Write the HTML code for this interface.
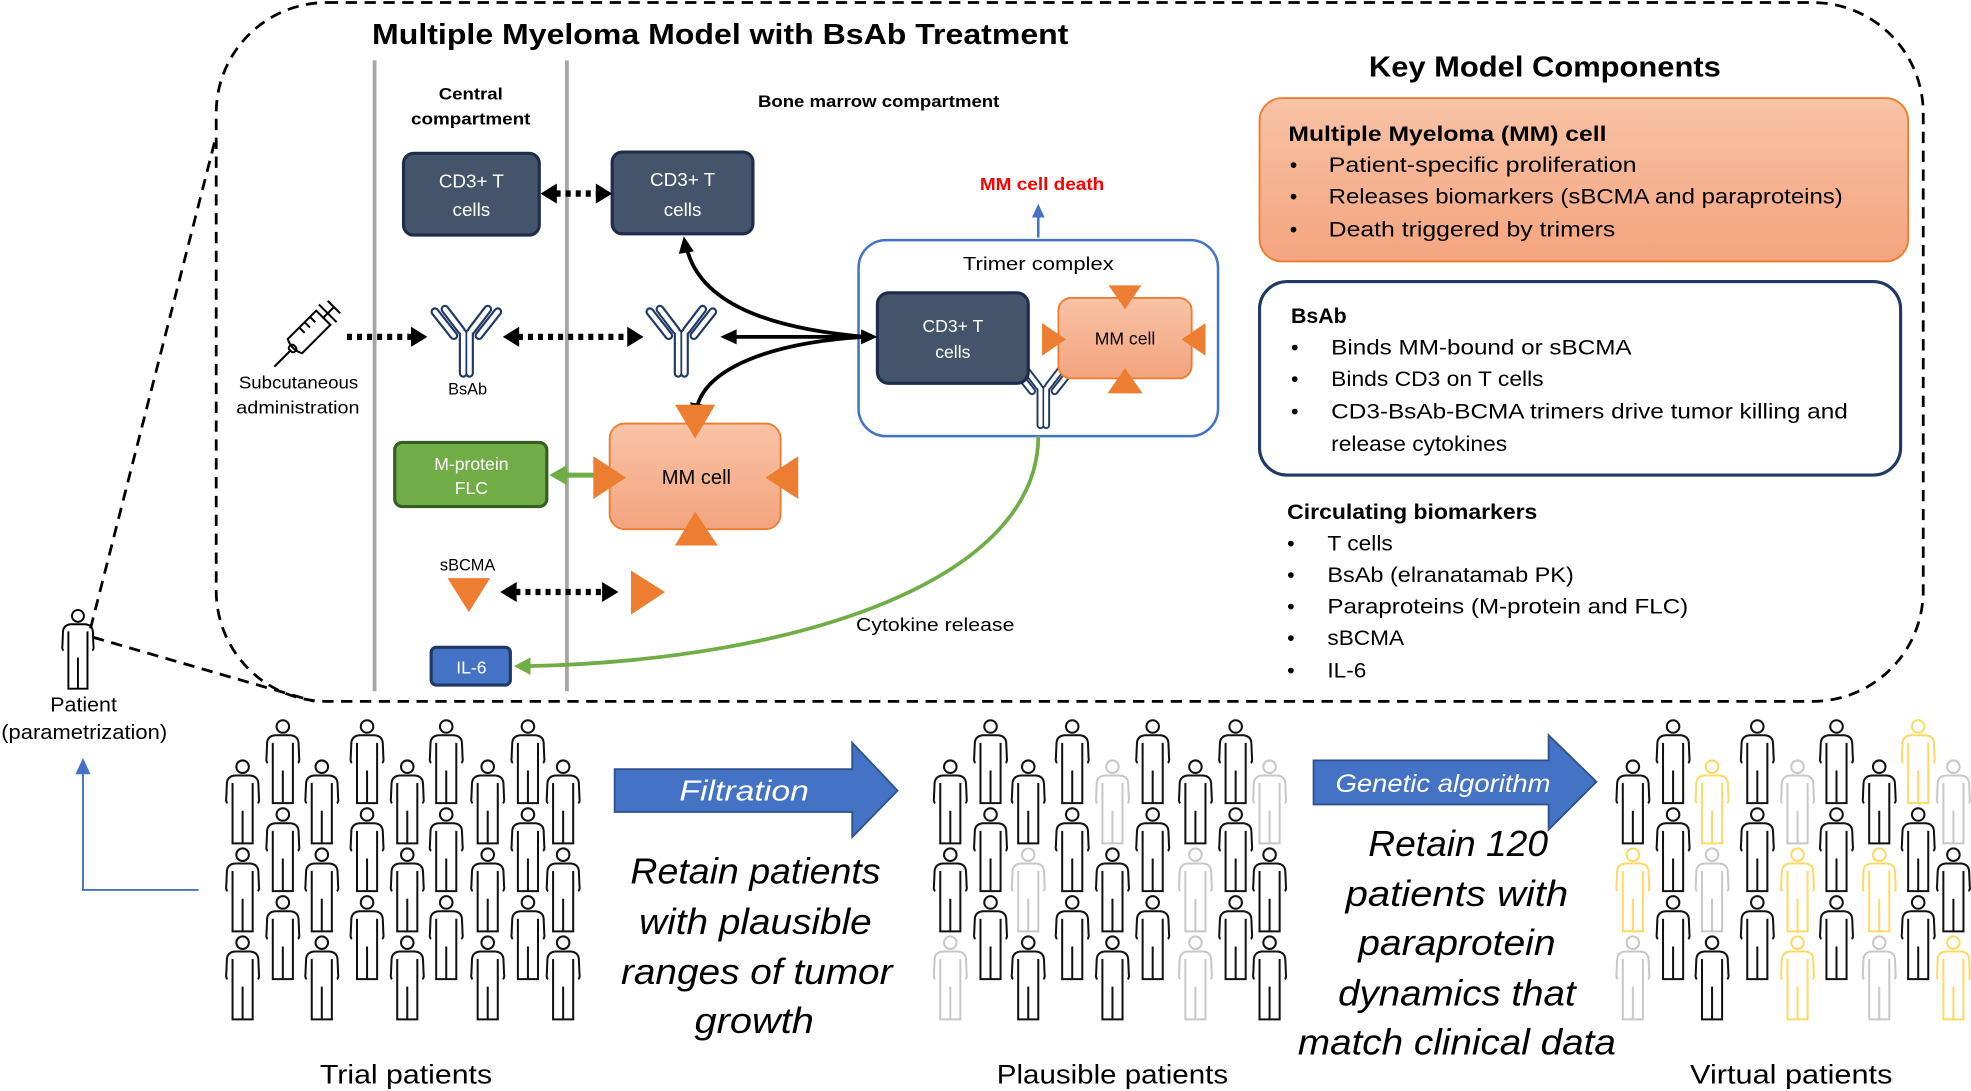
<!DOCTYPE html>
<html><head><meta charset="utf-8"><style>
html,body{margin:0;padding:0;background:#fff;}
svg{display:block;}
text{font-family:"Liberation Sans",sans-serif;}
</style></head><body>
<svg width="1971" height="1091" viewBox="0 0 1568 868" preserveAspectRatio="none" xmlns="http://www.w3.org/2000/svg">
<defs>
<linearGradient id="og" x1="0" y1="0" x2="0" y2="1"><stop offset="0" stop-color="#f8c3a6"/><stop offset="1" stop-color="#f4a47e"/></linearGradient>
<g id="p"><circle cx="0" cy="0" r="5" fill="none"/><path d="M-12,29 Q-13.5,28 -13,25 L-12.5,13 Q-12,7.5 -6,7 L6,7 Q12,7.5 12.5,13 L13,25 Q13.5,28 12,29 M-8,13 V61 H8 V13 M0,35 V61" fill="none"/></g>
<g id="ab">
<path d="M-2.5,-2 V-34 M2.5,-2 V-34 M-4,-36 L-17,-53 M-10,-32 L-25,-51 M4,-36 L17,-53 M10,-32 L25,-51" stroke="#1f3864" stroke-width="7" stroke-linecap="round" fill="none"/>
<path d="M-2.5,-2 V-34 M2.5,-2 V-34 M-4,-36 L-17,-53 M-10,-32 L-25,-51 M4,-36 L17,-53 M10,-32 L25,-51" stroke="#fff" stroke-width="3.6" stroke-linecap="round" fill="none"/>
</g>
</defs>

<rect x="172" y="2" width="1358" height="556" rx="88" fill="none" stroke="#000" stroke-width="2.2" stroke-dasharray="9 6"/>
<path d="M72,500 L172,108" stroke="#000" stroke-width="2.2" stroke-dasharray="9 6" fill="none"/>
<path d="M74,507 L250,558" stroke="#000" stroke-width="2.2" stroke-dasharray="9 6" fill="none"/>

<text x="296" y="35" font-size="23" font-weight="bold" textLength="554" lengthAdjust="spacingAndGlyphs">Multiple Myeloma Model with BsAb Treatment</text>

<line x1="298" y1="48" x2="298" y2="550" stroke="#a6a6a6" stroke-width="3"/>
<line x1="451" y1="48" x2="451" y2="550" stroke="#a6a6a6" stroke-width="3"/>
<text x="349" y="79" font-size="13" font-weight="bold" textLength="51" lengthAdjust="spacingAndGlyphs">Central</text>
<text x="327" y="99" font-size="13" font-weight="bold" textLength="95" lengthAdjust="spacingAndGlyphs">compartment</text>
<text x="603" y="85" font-size="13" font-weight="bold" textLength="192" lengthAdjust="spacingAndGlyphs">Bone marrow compartment</text>

<rect x="321" y="122" width="108" height="65" rx="8" fill="#44546a" stroke="#1f2d4d" stroke-width="2.5"/>
<text x="375" y="149" font-size="15" fill="#fff" text-anchor="middle">CD3+ T</text>
<text x="375" y="172" font-size="15" fill="#fff" text-anchor="middle">cells</text>
<rect x="487" y="121" width="112" height="65" rx="8" fill="#44546a" stroke="#1f2d4d" stroke-width="2.5"/>
<text x="543" y="148" font-size="15" fill="#fff" text-anchor="middle">CD3+ T</text>
<text x="543" y="172" font-size="15" fill="#fff" text-anchor="middle">cells</text>
<line x1="442" y1="154" x2="475" y2="154" stroke="#000" stroke-width="5" stroke-dasharray="4 4"/>
<polygon points="430,154 443,146 443,162"/><polygon points="487,154 474,146 474,162"/>

<text x="829" y="151" font-size="14" font-weight="bold" fill="#ff0000" text-anchor="middle" textLength="99" lengthAdjust="spacingAndGlyphs">MM cell death</text>
<line x1="826" y1="189" x2="826" y2="172" stroke="#4472c4" stroke-width="2"/>
<polygon points="826,162 821,173 831,173" fill="#4472c4"/>

<rect x="683" y="191" width="286" height="156" rx="22" fill="#fff" stroke="#4472c4" stroke-width="2"/>
<text x="826" y="215" font-size="15" text-anchor="middle" textLength="120" lengthAdjust="spacingAndGlyphs">Trimer complex</text>
<use href="#ab" transform="translate(830,340) scale(0.9)"/>
<rect x="698" y="233" width="120" height="72" rx="9" fill="#44546a" stroke="#1f2d4d" stroke-width="2.5"/>
<text x="758" y="264" font-size="14" fill="#fff" text-anchor="middle">CD3+ T</text>
<text x="758" y="285" font-size="14" fill="#fff" text-anchor="middle">cells</text>
<rect x="842" y="237" width="106" height="64" rx="10" fill="url(#og)" stroke="#ed7d31" stroke-width="1.5"/>
<text x="895" y="274" font-size="14" text-anchor="middle">MM cell</text>
<polygon points="882,227 908,227 895,246" fill="#ed7d31"/>
<polygon points="829,257 829,283 848,270" fill="#ed7d31"/>
<polygon points="959,257 959,283 940,270" fill="#ed7d31"/>
<polygon points="881,313 909,313 895,293" fill="#ed7d31"/>

<g transform="translate(248,262) rotate(-45)" fill="none" stroke="#000" stroke-width="1.6">
<line x1="-42" y1="0" x2="-24" y2="0"/>
<rect x="-24" y="-3" width="5" height="6" rx="2"/>
<path d="M-19,-8 L13,-8 L13,8 L-19,8 Q-23,0 -19,-8 Z"/>
<line x1="-6" y1="-8" x2="-6" y2="-2"/><line x1="0" y1="-8" x2="0" y2="-2"/><line x1="6" y1="-8" x2="6" y2="-2"/>
<line x1="13" y1="0" x2="25" y2="0"/><line x1="18" y1="-10" x2="18" y2="10"/><line x1="25" y1="-7" x2="25" y2="7"/>
</g>
<text x="190" y="309" font-size="14" textLength="95" lengthAdjust="spacingAndGlyphs">Subcutaneous</text>
<text x="188" y="329" font-size="14" textLength="98" lengthAdjust="spacingAndGlyphs">administration</text>
<line x1="276" y1="268" x2="327" y2="268" stroke="#000" stroke-width="5" stroke-dasharray="4 4"/>
<polygon points="340,268 327,260 327,276"/>
<use href="#ab" transform="translate(371,299)"/>
<text x="372" y="314" font-size="13" text-anchor="middle">BsAb</text>
<line x1="412" y1="268" x2="500" y2="268" stroke="#000" stroke-width="5" stroke-dasharray="4 4"/>
<polygon points="400,268 413,260 413,276"/><polygon points="512,268 499,260 499,276"/>
<use href="#ab" transform="translate(542,299)"/>

<line x1="584" y1="268" x2="686" y2="268" stroke="#000" stroke-width="3"/>
<polygon points="573,268 586,262 586,274"/><polygon points="698,268 685,262 685,274"/>
<path d="M688,268 C620,262 560,245 547,200" stroke="#000" stroke-width="3" fill="none"/>
<polygon points="544,188 540,202 552,200"/>
<path d="M688,268 C620,272 565,290 555,322" stroke="#000" stroke-width="3" fill="none"/>
<polygon points="553,334 549,320 560,322"/>

<rect x="314" y="352" width="121" height="51" rx="6" fill="#70ad47" stroke="#375e22" stroke-width="2.5"/>
<text x="375" y="374" font-size="14" fill="#fff" text-anchor="middle">M-protein</text>
<text x="375" y="393" font-size="14" fill="#fff" text-anchor="middle">FLC</text>
<line x1="450" y1="378" x2="497" y2="378" stroke="#70ad47" stroke-width="4"/>
<polygon points="437,378 451,370 451,386" fill="#70ad47"/>

<rect x="485" y="337" width="136" height="84" rx="12" fill="url(#og)" stroke="#ed7d31" stroke-width="1.5"/>
<text x="554" y="385" font-size="16" text-anchor="middle">MM cell</text>
<polygon points="537,322 569,322 553,349" fill="#ed7d31"/>
<polygon points="472,363 472,397 498,380" fill="#ed7d31"/>
<polygon points="635,363 635,397 609,380" fill="#ed7d31"/>
<polygon points="537,434 571,434 553,407" fill="#ed7d31"/>

<text x="372" y="454" font-size="13" text-anchor="middle">sBCMA</text>
<polygon points="356,460 390,460 373,487" fill="#ed7d31"/>
<line x1="410" y1="471" x2="480" y2="471" stroke="#000" stroke-width="5" stroke-dasharray="4 4"/>
<polygon points="398,471 411,463 411,479"/><polygon points="492,471 479,463 479,479"/>
<polygon points="502,454 502,489 529,471" fill="#ed7d31"/>

<rect x="343" y="515" width="63" height="30" rx="4" fill="#4472c4" stroke="#1f3864" stroke-width="2.5"/>
<text x="375" y="536" font-size="14" fill="#fff" text-anchor="middle">IL-6</text>
<path d="M826,347 C826,460 640,525 420,530" stroke="#70ad47" stroke-width="3" fill="none"/>
<polygon points="409,530 422,523 422,537" fill="#70ad47"/>
<text x="681" y="502" font-size="15" textLength="126" lengthAdjust="spacingAndGlyphs">Cytokine release</text>

<text x="1089" y="61" font-size="23" font-weight="bold" textLength="280" lengthAdjust="spacingAndGlyphs">Key Model Components</text>
<rect x="1002" y="78" width="516" height="130" rx="18" fill="url(#og)" stroke="#ed7d31" stroke-width="1.5"/>
<g font-size="17">
<text x="1025" y="112" font-weight="bold" textLength="253" lengthAdjust="spacingAndGlyphs">Multiple Myeloma (MM) cell</text>
<text x="1026" y="137">•</text><text x="1057" y="137" textLength="245" lengthAdjust="spacingAndGlyphs">Patient-specific proliferation</text>
<text x="1026" y="162">•</text><text x="1057" y="162" textLength="409" lengthAdjust="spacingAndGlyphs">Releases biomarkers (sBCMA and paraproteins)</text>
<text x="1026" y="188">•</text><text x="1057" y="188" textLength="228" lengthAdjust="spacingAndGlyphs">Death triggered by trimers</text>
</g>
<rect x="1002" y="224" width="510" height="154" rx="22" fill="#fff" stroke="#1f3864" stroke-width="2.5"/>
<g font-size="17">
<text x="1027" y="257" font-weight="bold">BsAb</text>
<text x="1027" y="282">•</text><text x="1059" y="282" textLength="239" lengthAdjust="spacingAndGlyphs">Binds MM-bound or sBCMA</text>
<text x="1027" y="307">•</text><text x="1059" y="307" textLength="169" lengthAdjust="spacingAndGlyphs">Binds CD3 on T cells</text>
<text x="1027" y="333">•</text><text x="1059" y="333" textLength="411" lengthAdjust="spacingAndGlyphs">CD3-BsAb-BCMA trimers drive tumor killing and</text>
<text x="1059" y="359" textLength="140" lengthAdjust="spacingAndGlyphs">release cytokines</text>
<text x="1024" y="413" font-weight="bold" textLength="199" lengthAdjust="spacingAndGlyphs">Circulating biomarkers</text>
<text x="1024" y="438">•</text><text x="1056" y="438" textLength="52" lengthAdjust="spacingAndGlyphs">T cells</text>
<text x="1024" y="463">•</text><text x="1056" y="463" textLength="196" lengthAdjust="spacingAndGlyphs">BsAb (elranatamab PK)</text>
<text x="1024" y="488">•</text><text x="1056" y="488" textLength="287" lengthAdjust="spacingAndGlyphs">Paraproteins (M-protein and FLC)</text>
<text x="1024" y="513">•</text><text x="1056" y="513" textLength="61" lengthAdjust="spacingAndGlyphs">sBCMA</text>
<text x="1024" y="539">•</text><text x="1056" y="539" textLength="31" lengthAdjust="spacingAndGlyphs">IL-6</text>
</g>

<use href="#p" transform="translate(62,490) scale(0.95)" stroke="#000" stroke-width="1.6"/>
<text x="40" y="566" font-size="16" textLength="53" lengthAdjust="spacingAndGlyphs">Patient</text>
<text x="1" y="588" font-size="16" textLength="132" lengthAdjust="spacingAndGlyphs">(parametrization)</text>
<path d="M158,708 H66 V614" stroke="#4472c4" stroke-width="1.5" fill="none"/>
<polygon points="66,603 60,616 72,616" fill="#4472c4"/>

<polygon points="489,612 678,612 678,591 714,629 678,666 678,646 489,646" fill="#4472c4" stroke="#2f528f" stroke-width="1.5"/>
<text x="592" y="637" font-size="23" font-style="italic" fill="#fff" text-anchor="middle" textLength="103" lengthAdjust="spacingAndGlyphs">Filtration</text>
<polygon points="1045,605 1232,605 1232,585 1270,622 1232,660 1232,640 1045,640" fill="#4472c4" stroke="#2f528f" stroke-width="1.5"/>
<text x="1148" y="630" font-size="20" font-style="italic" fill="#fff" text-anchor="middle" textLength="171" lengthAdjust="spacingAndGlyphs">Genetic algorithm</text>

<g font-size="29" font-style="italic" text-anchor="middle">
<text x="601" y="703" textLength="199" lengthAdjust="spacingAndGlyphs">Retain patients</text>
<text x="601" y="743" textLength="185" lengthAdjust="spacingAndGlyphs">with plausible</text>
<text x="602" y="783" textLength="216" lengthAdjust="spacingAndGlyphs">ranges of tumor</text>
<text x="600" y="822" textLength="95" lengthAdjust="spacingAndGlyphs">growth</text>
<text x="1160" y="681" textLength="143" lengthAdjust="spacingAndGlyphs">Retain 120</text>
<text x="1159" y="721" textLength="177" lengthAdjust="spacingAndGlyphs">patients with</text>
<text x="1159" y="760" textLength="157" lengthAdjust="spacingAndGlyphs">paraprotein</text>
<text x="1159" y="800" textLength="189" lengthAdjust="spacingAndGlyphs">dynamics that</text>
<text x="1159" y="839" textLength="253" lengthAdjust="spacingAndGlyphs">match clinical data</text>
</g>
<g font-size="21" text-anchor="middle">
<text x="323" y="862" textLength="137" lengthAdjust="spacingAndGlyphs">Trial patients</text>
<text x="885" y="862" textLength="184" lengthAdjust="spacingAndGlyphs">Plausible patients</text>
<text x="1425" y="862" textLength="161" lengthAdjust="spacingAndGlyphs">Virtual patients</text>
</g>

<g stroke-width="1.6">
<g stroke="#111">
<use href="#p" transform="translate(193,610)"/><use href="#p" transform="translate(193,680)"/><use href="#p" transform="translate(193,750)"/>
<use href="#p" transform="translate(225,578)"/><use href="#p" transform="translate(225,648)"/><use href="#p" transform="translate(225,718)"/>
<use href="#p" transform="translate(256,610)"/><use href="#p" transform="translate(256,680)"/><use href="#p" transform="translate(256,750)"/>
<use href="#p" transform="translate(292,578)"/><use href="#p" transform="translate(292,648)"/><use href="#p" transform="translate(292,718)"/>
<use href="#p" transform="translate(324,610)"/><use href="#p" transform="translate(324,680)"/><use href="#p" transform="translate(324,750)"/>
<use href="#p" transform="translate(355,578)"/><use href="#p" transform="translate(355,648)"/><use href="#p" transform="translate(355,718)"/>
<use href="#p" transform="translate(388,610)"/><use href="#p" transform="translate(388,680)"/><use href="#p" transform="translate(388,750)"/>
<use href="#p" transform="translate(420,578)"/><use href="#p" transform="translate(420,648)"/><use href="#p" transform="translate(420,718)"/>
<use href="#p" transform="translate(448,610)"/><use href="#p" transform="translate(448,680)"/><use href="#p" transform="translate(448,750)"/>
</g>
<g stroke="#111">
<use href="#p" transform="translate(756,610)"/><use href="#p" transform="translate(756,680)"/>
<use href="#p" transform="translate(788,578)"/><use href="#p" transform="translate(788,648)"/><use href="#p" transform="translate(788,718)"/>
<use href="#p" transform="translate(818,610)"/><use href="#p" transform="translate(818,750)"/>
<use href="#p" transform="translate(853,578)"/><use href="#p" transform="translate(853,648)"/><use href="#p" transform="translate(853,718)"/>
<use href="#p" transform="translate(885,680)"/><use href="#p" transform="translate(885,750)"/>
<use href="#p" transform="translate(917,578)"/><use href="#p" transform="translate(917,648)"/><use href="#p" transform="translate(917,718)"/>
<use href="#p" transform="translate(951,610)"/>
<use href="#p" transform="translate(983,578)"/><use href="#p" transform="translate(983,648)"/><use href="#p" transform="translate(983,718)"/>
<use href="#p" transform="translate(1010,680)"/><use href="#p" transform="translate(1010,750)"/>
</g>
<g stroke="#c8c8c8">
<use href="#p" transform="translate(756,750)"/><use href="#p" transform="translate(818,680)"/><use href="#p" transform="translate(885,610)"/>
<use href="#p" transform="translate(951,680)"/><use href="#p" transform="translate(951,750)"/><use href="#p" transform="translate(1010,610)"/>
</g>
<g stroke="#111">
<use href="#p" transform="translate(1299,610)"/>
<use href="#p" transform="translate(1331,578)"/><use href="#p" transform="translate(1331,648)"/><use href="#p" transform="translate(1331,718)"/>
<use href="#p" transform="translate(1362,750)"/>
<use href="#p" transform="translate(1398,578)"/><use href="#p" transform="translate(1398,648)"/><use href="#p" transform="translate(1398,718)"/>
<use href="#p" transform="translate(1461,578)"/><use href="#p" transform="translate(1461,648)"/><use href="#p" transform="translate(1461,718)"/>
<use href="#p" transform="translate(1495,610)"/>
<use href="#p" transform="translate(1526,648)"/><use href="#p" transform="translate(1526,718)"/>
<use href="#p" transform="translate(1554,680)"/>
</g>
<g stroke="#ffd966">
<use href="#p" transform="translate(1299,680)"/><use href="#p" transform="translate(1362,610)"/>
<use href="#p" transform="translate(1430,680)"/><use href="#p" transform="translate(1430,750)"/>
<use href="#p" transform="translate(1495,680)"/><use href="#p" transform="translate(1526,578)"/>
<use href="#p" transform="translate(1554,750)"/>
</g>
<g stroke="#c8c8c8">
<use href="#p" transform="translate(1299,750)"/><use href="#p" transform="translate(1362,680)"/><use href="#p" transform="translate(1430,610)"/>
<use href="#p" transform="translate(1495,750)"/><use href="#p" transform="translate(1554,610)"/>
</g>
</g>
</svg>
</body></html>
